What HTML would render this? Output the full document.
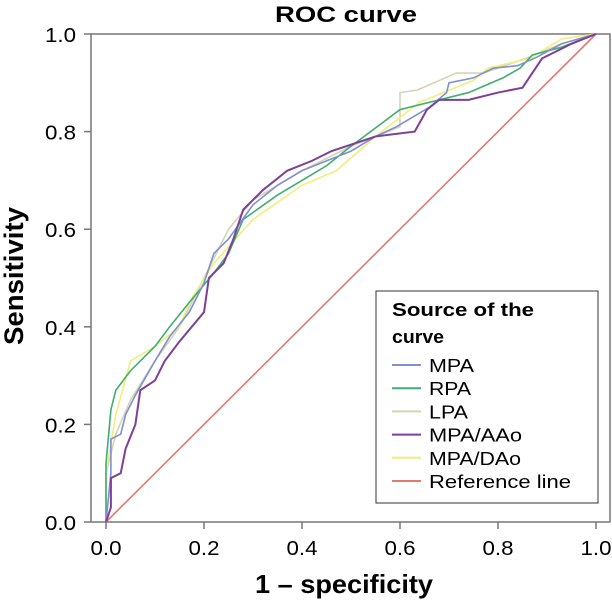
<!DOCTYPE html>
<html><head><meta charset="utf-8"><style>
body{margin:0;background:#fff;}
svg{font-family:"Liberation Sans",Arial,sans-serif;}
</style></head><body>
<svg width="612" height="601" viewBox="0 0 612 601">
<text x="346" y="22" text-anchor="middle" font-size="22" font-weight="bold" textLength="142" lengthAdjust="spacingAndGlyphs">ROC curve</text>
<rect x="91" y="34" width="519" height="488" fill="none" stroke="#777" stroke-width="1.5"/>
<g id="axes"></g>
<g id="series"></g>
<text x="344" y="593" text-anchor="middle" font-size="26" font-weight="bold" textLength="178" lengthAdjust="spacingAndGlyphs">1 – specificity</text>
<text transform="translate(23,276) rotate(-90)" text-anchor="middle" font-size="27" font-weight="bold" textLength="138" lengthAdjust="spacingAndGlyphs">Sensitivity</text>
<g>
<rect x="376" y="291" width="222" height="212" fill="#fff" stroke="#333" stroke-width="1"/>
<text x="392" y="316" font-size="18" font-weight="bold" textLength="142" lengthAdjust="spacingAndGlyphs">Source of the</text>
<text x="392" y="343" font-size="18" font-weight="bold" textLength="52" lengthAdjust="spacingAndGlyphs">curve</text>
<g id="legend-items"></g>
</g>
</svg>
<script>
const xTicks=[0,0.2,0.4,0.6,0.8,1.0];
const yTicks=[0,0.2,0.4,0.6,0.8,1.0];
const seriesNames=["MPA","RPA","LPA","MPA/AAo","MPA/DAo","Reference line"];
const seriesColors=["#8090d0","#40ae70","#d8d2b4","#7d3f98","#eef07a","#e07a70"];
const mpaX=[0,0.01,0.01,0.03,0.04,0.06,0.1,0.13,0.17,0.2,0.22,0.25,0.3,0.35,0.4,0.45,0.5,0.55,0.593,0.66,0.695,0.7,0.75,0.79,0.84,0.88,0.93,1];
const mpaY=[0,0.1,0.17,0.18,0.22,0.26,0.33,0.38,0.43,0.49,0.55,0.58,0.65,0.69,0.72,0.74,0.76,0.79,0.81,0.85,0.88,0.9,0.91,0.93,0.935,0.953,0.98,1];
const rpaX=[0,0,0.01,0.02,0.05,0.1,0.13,0.17,0.22,0.25,0.28,0.35,0.4,0.45,0.5,0.6,0.74,0.81,0.845,0.87,0.93,1];
const rpaY=[0,0.12,0.23,0.27,0.31,0.36,0.4,0.45,0.51,0.55,0.62,0.67,0.7,0.73,0.77,0.845,0.88,0.91,0.93,0.957,0.973,1];
const lpaX=[0,0,0.02,0.05,0.1,0.15,0.2,0.25,0.3,0.4,0.5,0.6,0.6,0.635,0.715,0.77,0.865,0.93,1];
const lpaY=[0,0.1,0.18,0.25,0.33,0.4,0.5,0.6,0.66,0.72,0.77,0.81,0.88,0.885,0.92,0.92,0.953,0.98,1];
const aaoX=[0,0.01,0.01,0.03,0.04,0.06,0.07,0.1,0.12,0.15,0.2,0.21,0.24,0.26,0.28,0.32,0.37,0.42,0.46,0.55,0.63,0.655,0.68,0.74,0.8,0.85,0.87,0.89,0.95,1];
const aaoY=[0,0.03,0.09,0.1,0.15,0.2,0.27,0.29,0.33,0.37,0.43,0.5,0.53,0.58,0.64,0.68,0.72,0.74,0.76,0.79,0.8,0.845,0.865,0.865,0.88,0.89,0.92,0.95,0.98,1];
const daoX=[0,0,0.02,0.05,0.1,0.15,0.17,0.22,0.3,0.4,0.47,0.55,0.64,0.75,0.78,0.865,0.93,1];
const daoY=[0,0.1,0.22,0.33,0.36,0.4,0.45,0.53,0.62,0.69,0.72,0.79,0.86,0.905,0.93,0.95,0.99,1];
const refX=[0,1];
const refY=[0,1];
const NS="http://www.w3.org/2000/svg";
function sx(v){return 106+490*v;}
function sy(v){return 522-488*v;}
function mk(tag,attrs,parent){const e=document.createElementNS(NS,tag);for(const k in attrs)e.setAttribute(k,attrs[k]);parent.appendChild(e);return e;}
const axes=document.getElementById('axes');
xTicks.forEach(t=>{
  const l=mk('line',{x1:sx(t),x2:sx(t),y1:522,y2:529,stroke:'#777','stroke-width':1.5},axes);
  
  
  const tx=mk('text',{x:sx(t),y:555,'text-anchor':'middle','font-size':20,textLength:31,lengthAdjust:'spacingAndGlyphs'},axes);
  tx.textContent=t.toFixed(1);
  
  
});
yTicks.forEach(t=>{
  const l=mk('line',{x1:84,x2:91,y1:sy(t),y2:sy(t),stroke:'#777','stroke-width':1.5},axes);
  
  
  const tx=mk('text',{x:76,y:sy(t)+8,'text-anchor':'end','font-size':20,textLength:31,lengthAdjust:'spacingAndGlyphs'},axes);
  tx.textContent=t.toFixed(1);
  
  
});
const sg=document.getElementById('series');
const data=[[refX,refY],[lpaX,lpaY],[daoX,daoY],[rpaX,rpaY],[mpaX,mpaY],[aaoX,aaoY]];
const idx=[5,2,4,1,0,3];
const names=['reference-line','lpa-curve','mpa-dao-curve','rpa-curve','mpa-curve','mpa-aao-curve'];
data.forEach((d,i)=>{
  const pts=d[0].map((x,j)=>sx(x)+','+sy(d[1][j])).join(' ');
  const p=mk('polyline',{points:pts,fill:'none',stroke:seriesColors[idx[i]],'stroke-width':idx[i]===3?2:1.6},sg);
  
  
});
const legendWidths=[45,42,39,93,92,142];
const li=document.getElementById('legend-items');
seriesNames.forEach((n,i)=>{
  const y=372+i*23.2;
  const l=mk('line',{x1:392,x2:421,y1:y-7,y2:y-7,stroke:seriesColors[i],'stroke-width':2},li);
  
  
  const t=mk('text',{x:429,y:y,'font-size':18,textLength:legendWidths[i],lengthAdjust:'spacingAndGlyphs'},li);
  t.textContent=n;
  
  
});
</script>
</body></html>
